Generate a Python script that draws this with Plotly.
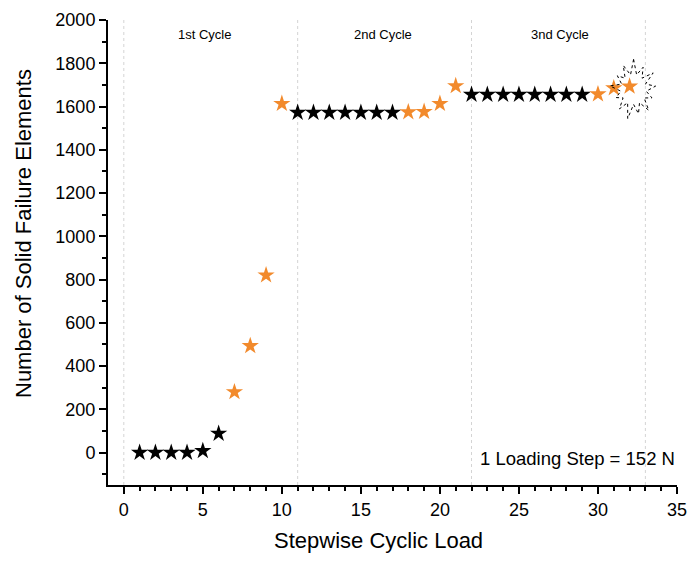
import math
import plotly.graph_objects as go

# Load step index and number of solid failure elements at each step
steps = list(range(1, 33))
failures = [0, 0, 0, 0, 8, 88, 280, 493, 820, 1613,
            1572, 1572, 1572, 1572, 1572, 1572, 1572, 1574, 1576, 1613,
            1695, 1655, 1655, 1655, 1655, 1655, 1655, 1655, 1655, 1657,
            1685, 1693]
# 1 = step with a jump in failure count (orange), 0 = stable step (black)
jump = [0, 0, 0, 0, 0, 0, 1, 1, 1, 1,
        0, 0, 0, 0, 0, 0, 0, 1, 1, 1,
        1, 0, 0, 0, 0, 0, 0, 0, 0, 1,
        1, 1]

cycle_bounds = [0, 11, 22, 33]
cycle_names = ["1st Cycle", "2nd Cycle", "3nd Cycle"]
cycle_label_x = [5.1, 16.4, 27.6]

x_ticks = [0, 5, 10, 15, 20, 25, 30, 35]
y_ticks = [0, 200, 400, 600, 800, 1000, 1200, 1400, 1600, 1800, 2000]

X_RANGE = [-1, 35]
Y_RANGE = [-150, 2000]

W, H = 693, 561
ML, MR, MT, MB = 108, 16, 20, 76
plot_w = W - ML - MR
plot_h = H - MT - MB
px_x = (X_RANGE[1] - X_RANGE[0]) / plot_w
px_y = (Y_RANGE[1] - Y_RANGE[0]) / plot_h


def paper_x(px):
    return (px - ML) / plot_w


def paper_y(py):
    return (H - MB - py) / plot_h


ORANGE = "#f28a2c"
FONT = "Liberation Sans, Arial, sans-serif"

fig = go.Figure()

for flag, color in [(0, "black"), (1, ORANGE)]:
    xs = [s for s, j in zip(steps, jump) if j == flag]
    ys = [f for f, j in zip(failures, jump) if j == flag]
    fig.add_trace(go.Scatter(
        x=xs, y=ys, mode="markers",
        marker=dict(symbol="star", size=13, color=color, line=dict(width=0)),
        showlegend=False, hoverinfo="x+y",
    ))

# Burst outline marking failure at the final step
cx = steps[-1] + 4 * px_x
cy = failures[-1] - 3 * px_y
radii_out = [30, 27, 24, 29, 23, 26, 30, 25, 28, 24, 27, 29, 25]
n = len(radii_out)
bx, by = [], []
for i in range(n):
    a_out = math.pi / 2 + 2 * math.pi * i / n
    a_in = a_out + math.pi / n
    r_o = radii_out[i]
    r_i = 15
    bx.append(cx + r_o * 0.82 * math.cos(a_out) * px_x)
    by.append(cy + r_o * math.sin(a_out) * px_y)
    bx.append(cx + r_i * 0.85 * math.cos(a_in) * px_x)
    by.append(cy + r_i * math.sin(a_in) * px_y)
bx.append(bx[0])
by.append(by[0])
fig.add_trace(go.Scatter(
    x=bx, y=by, mode="lines",
    line=dict(color="black", width=1, dash="dot"),
    showlegend=False, hoverinfo="skip",
))

shapes = []
for b in cycle_bounds:
    shapes.append(dict(
        type="line", xref="x", yref="paper", x0=b, x1=b, y0=0, y1=1,
        line=dict(color="#d4d4d4", width=1, dash="dot"), layer="below",
    ))

annotations = []
for name, lx in zip(cycle_names, cycle_label_x):
    annotations.append(dict(
        x=lx, y=1935, xref="x", yref="y", text=name, showarrow=False,
        font=dict(family=FONT, size=13, color="black"),
    ))
annotations.append(dict(
    x=1, y=paper_y(458), xref="paper", yref="paper", xanchor="right",
    yanchor="middle", text="1 Loading Step = 152 N", showarrow=False,
    font=dict(family=FONT, size=18.5, color="black"),
))
annotations.append(dict(
    x=paper_x(378), y=paper_y(540), xref="paper", yref="paper",
    xanchor="center", yanchor="middle", text="Stepwise Cyclic Load",
    showarrow=False, font=dict(family=FONT, size=22, color="black"),
))
annotations.append(dict(
    x=paper_x(23), y=paper_y(234), xref="paper", yref="paper",
    xanchor="center", yanchor="middle", text="Number of Solid Failure Elements",
    showarrow=False, textangle=-90, font=dict(family=FONT, size=22, color="black"),
))

fig.update_layout(
    width=W, height=H,
    margin=dict(l=ML, r=MR, t=MT, b=MB, autoexpand=False),
    paper_bgcolor="white", plot_bgcolor="white",
    font=dict(family=FONT, color="black"),
    shapes=shapes, annotations=annotations,
    xaxis=dict(
        range=X_RANGE, tickvals=x_ticks, ticktext=[str(v) for v in x_ticks],
        showgrid=False, zeroline=False, showline=True, linecolor="black",
        linewidth=2, ticks="outside", ticklen=7, tickwidth=2, tickcolor="black",
        tickfont=dict(size=18, family=FONT), mirror=False,
        minor=dict(tickvals=list(range(0, 36)), ticks="outside", ticklen=4,
                   tickwidth=1.5, tickcolor="black", showgrid=False),
    ),
    yaxis=dict(
        range=Y_RANGE, tickvals=y_ticks, ticktext=[str(v) for v in y_ticks],
        showgrid=False, zeroline=False, showline=True, linecolor="black",
        linewidth=2, ticks="outside", ticklen=7, tickwidth=2, tickcolor="black",
        tickfont=dict(size=18, family=FONT), mirror=False,
        minor=dict(tickvals=list(range(-100, 2001, 100)), ticks="outside",
                   ticklen=4, tickwidth=1.5, tickcolor="black", showgrid=False),
    ),
)

fig.write_html("out.html")
